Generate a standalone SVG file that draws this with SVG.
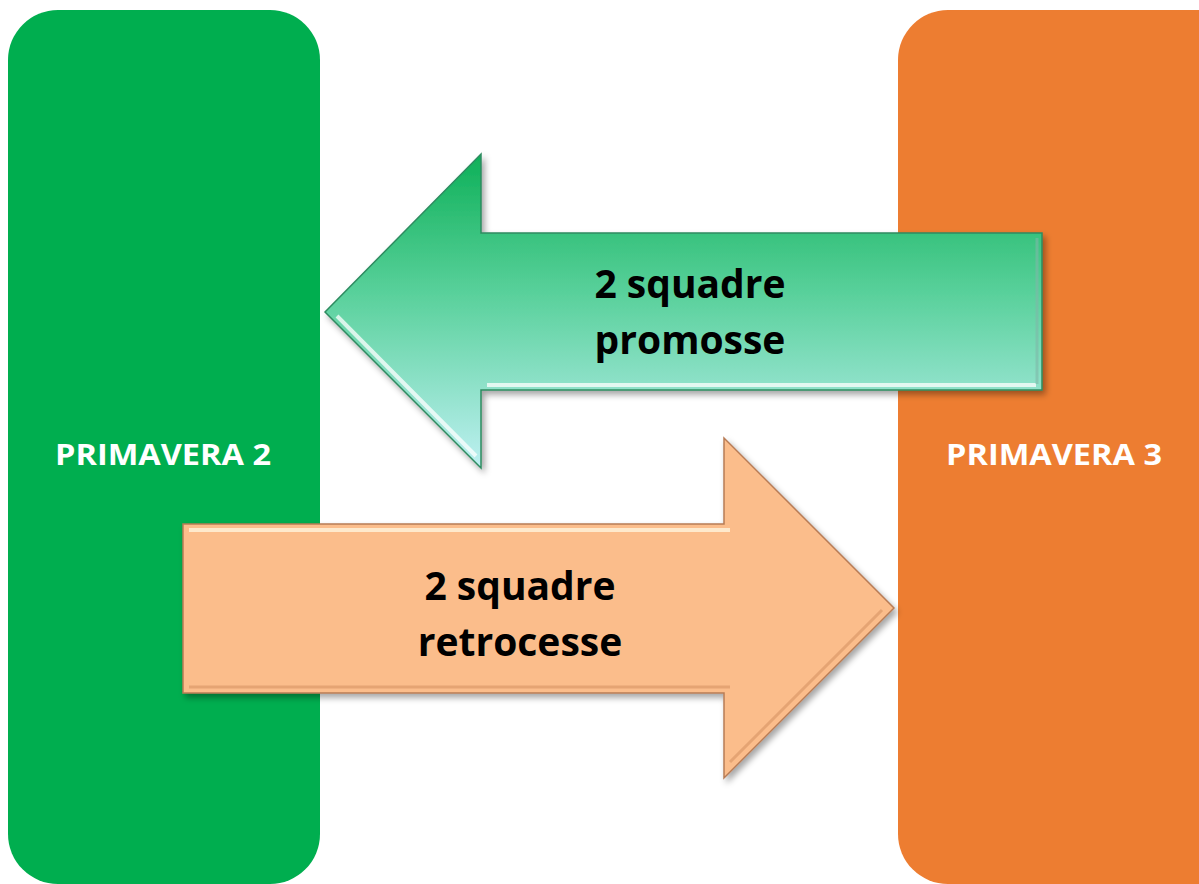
<svg xmlns="http://www.w3.org/2000/svg" width="1199" height="884" viewBox="0 0 1199 884">
<style>
.lbl{font-family:"Open Sans","Liberation Sans",sans-serif;font-weight:bold;fill:#FFFFFF;font-size:29px;text-anchor:middle}
.big{font-family:"Open Sans","Liberation Sans",sans-serif;font-weight:bold;fill:#000000;font-size:39px;text-anchor:middle}
</style>
<defs>
<linearGradient id="gGreen" x1="0" y1="0" x2="0" y2="1">
<stop offset="0" stop-color="#0EB058"/>
<stop offset="0.45" stop-color="#5AD19C"/>
<stop offset="1" stop-color="#BEF0F2"/>
</linearGradient>
<filter id="shadow" x="-10%" y="-10%" width="130%" height="130%">
<feDropShadow dx="3" dy="4" stdDeviation="3" flood-color="#000" flood-opacity="0.35"/>
</filter>
</defs>
<rect width="1199" height="884" fill="#FFFFFF"/>
<g id="primavera2">
<rect x="8" y="10" width="312" height="874" rx="50" ry="50" fill="#00AE4F"/>
<text class="lbl" x="163" y="465" textLength="216" lengthAdjust="spacingAndGlyphs">PRIMAVERA 2</text>
</g>
<g id="primavera3">
<rect x="898" y="10" width="352" height="874" rx="50" ry="50" fill="#ED7D31"/>
<text class="lbl" x="1054" y="465" textLength="216" lengthAdjust="spacingAndGlyphs">PRIMAVERA 3</text>
</g>
<g id="connectors">
<g id="promosse">
<path d="M325,312 L481,154 L481,233 L1042,233 L1042,390 L481,390 L481,468 Z" fill="url(#gGreen)" stroke="#2E8B60" stroke-width="1.5" stroke-linejoin="miter" filter="url(#shadow)"/>
<path d="M487,385 L1036,385 M337,316 L476,456" stroke="#FFFFFF" stroke-opacity="0.75" stroke-width="4" fill="none"/>
<path d="M1037,238 L1037,384" stroke="#7FB8A8" stroke-opacity="0.6" stroke-width="3" fill="none"/>
<text class="big" x="690" y="298">2 squadre</text>
<text class="big" x="690" y="354">promosse</text>
</g>
<g id="retrocesse">
<path d="M183,524 L724,524 L724,438 L894,608 L724,778 L724,693 L183,693 Z" fill="#FBBD8B" stroke="#B87C56" stroke-width="1.5" stroke-linejoin="miter" filter="url(#shadow)"/>
<path d="M189,530 L730,530" stroke="#FFF4DC" stroke-opacity="0.8" stroke-width="4" fill="none"/>
<path d="M189,687 L730,687 M882,610 L730,762" stroke="#C98456" stroke-opacity="0.45" stroke-width="3" fill="none"/>
<text class="big" x="520" y="600">2 squadre</text>
<text class="big" x="520" y="656">retrocesse</text>
</g>
</g>
</svg>
